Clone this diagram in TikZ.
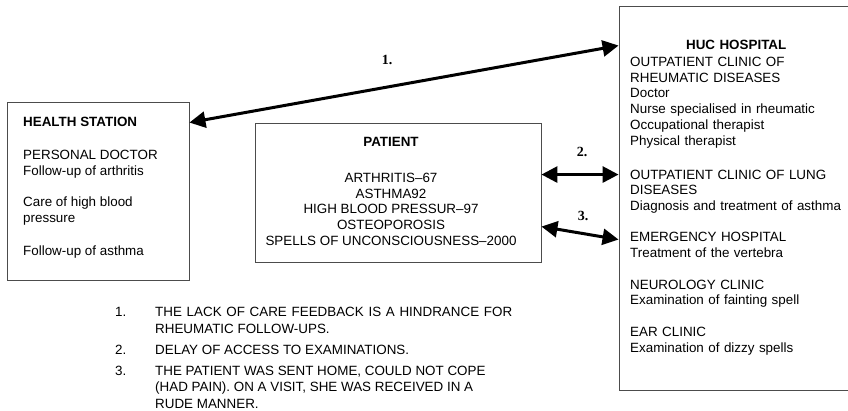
\documentclass[tikz,border=0pt]{standalone}
\usepackage{fontspec}
\setmainfont{Liberation Sans}
\newfontfamily\labelfont{Liberation Serif}
\usetikzlibrary{arrows.meta}
\begin{document}
\begin{tikzpicture}[x=1pt, y=-1pt,
  box/.style={draw=black!70, line width=0.9pt, inner sep=0pt},
  txt/.style={font=\fontsize{13.4}{15.8}\selectfont, align=left, inner sep=0pt},
  lbl/.style={font=\labelfont\bfseries\fontsize{14}{16}\selectfont, inner sep=0pt},
  arr/.style={{Triangle[length=16pt,width=16pt]}-{Triangle[length=16pt,width=16pt]}, line width=3pt}]
\clip (0,0) rectangle (848,411);
% boxes
\node[box, minimum width=182pt, minimum height=178pt] (hs) at (98,191){};
\node[box, minimum width=286pt, minimum height=139pt] (pt) at (398,192.5){};
\node[box, minimum width=240pt, minimum height=384pt] (huc) at (739,198){};
% box texts
\node[txt, anchor=north west] (hstext) at (23,117){\textbf{HEALTH STATION}\\[17pt]
  PERSONAL DOCTOR\\ Follow-up of arthritis\\[16pt]
  Care of high blood\\ pressure\\[17pt]
  Follow-up of asthma};
\node[txt, align=center, anchor=north] (pttext) at (391,137){\textbf{PATIENT}\\[20pt]
  ARTHRITIS–67\\ ASTHMA92\\ HIGH BLOOD PRESSUR–97\\ OSTEOPOROSIS\\
  SPELLS OF UNCONSCIOUSNESS–2000};
\node[txt, text width=212pt, anchor=north west] (huctext) at (630,40){%
  \makebox[\linewidth]{\bfseries HUC HOSPITAL}\\[1pt]
  OUTPATIENT CLINIC OF\\ RHEUMATIC DISEASES\\ Doctor\\ Nurse specialised in rheumatic\\
  Occupational therapist\\ Physical therapist\\[18pt]
  OUTPATIENT CLINIC OF LUNG\\ DISEASES\\ Diagnosis and treatment of asthma\\[15pt]
  EMERGENCY HOSPITAL\\ Treatment of the vertebra\\[16pt]
  NEUROLOGY CLINIC\\ Examination of fainting spell\\[16pt]
  EAR CLINIC\\ Examination of dizzy spells};
% notes
\node[txt, font=\fontsize{13.4}{16.5}\selectfont, anchor=north west] (notes) at (115,307){%
  \makebox[40pt][l]{1.}\makebox[357pt][s]{THE LACK OF CARE FEEDBACK IS A HINDRANCE FOR}\\
  \hspace*{40pt}RHEUMATIC FOLLOW-UPS.\\[4.5pt]
  \makebox[40pt][l]{2.}DELAY OF ACCESS TO EXAMINATIONS.\\[4.5pt]
  \makebox[40pt][l]{3.}THE PATIENT WAS SENT HOME, COULD NOT COPE\\
  \hspace*{40pt}(HAD PAIN). ON A VISIT, SHE WAS RECEIVED IN A\\
  \hspace*{40pt}RUDE MANNER.};
% arrows
\draw[arr] ([yshift=-21pt]hs.north east) -- ([yshift=-40pt]huc.north west);
\draw[arr] ([yshift=-52pt]pt.north east) -- ([yshift=-169pt]huc.north west);
\draw[arr] ([yshift=-104pt]pt.north east) -- ([yshift=-234pt]huc.north west);
\node[lbl] (l1) at (387,60){1.};
\node[lbl] (l2) at (582,152){2.};
\node[lbl] (l3) at (583,216){3.};
\end{tikzpicture}
\end{document}
